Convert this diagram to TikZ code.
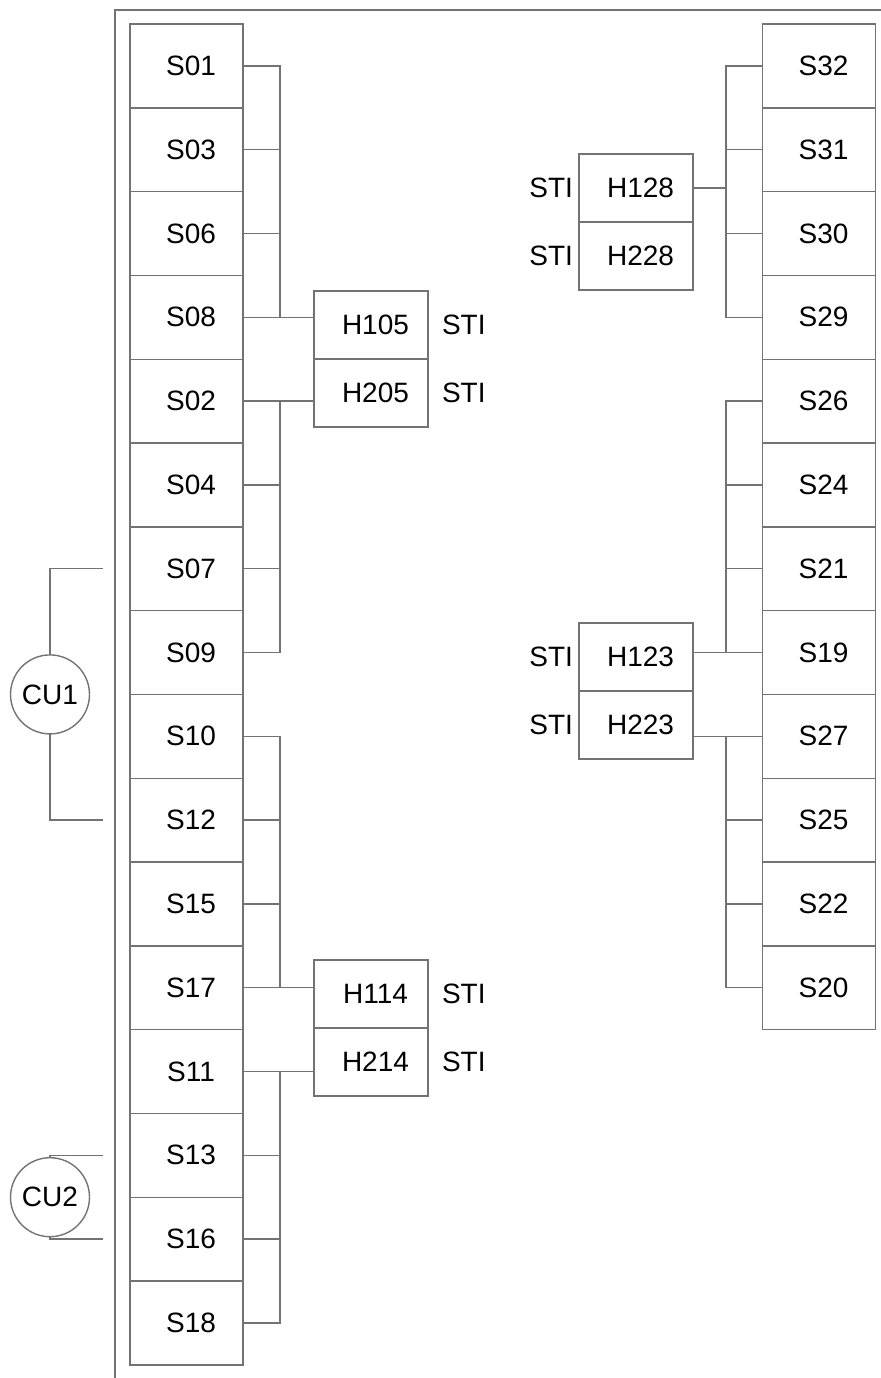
\documentclass[tikz,border=0pt]{standalone}
\usepackage{fontspec}
\setmainfont{Liberation Sans}
\usetikzlibrary{positioning}

\tikzset{
  slot/.style={draw,minimum width=56.5pt,minimum height=41.9pt,inner sep=0pt,outer sep=0pt,text=black,
    execute at begin node=\hspace*{4.5pt}},
  hcard/.style={draw,minimum width=57pt,minimum height=34pt,inner sep=0pt,outer sep=0pt,text=black,
    execute at begin node=\hspace*{4.5pt}},
  unit/.style={draw,circle,minimum size=39.5pt,inner sep=0pt,outer sep=0pt,text=black},
  tag/.style={inner sep=0pt,outer sep=0pt,text=black},
}

\begin{document}
\begin{tikzpicture}[x=0.5pt,y=-0.5pt,line width=0.7pt,black!55,font=\fontsize{14}{16}\selectfont]
    \useasboundingbox (0,0) rectangle (881,1378);
    % frame
    \draw (115,1378) -- (115,10) -- (881,10);
    \coordinate (lbus) at (280,0);
    \coordinate (rbus) at (726,0);
    \coordinate (cuend) at (103,0);

    % left column
    \node[slot] (s01) at (186.5,65.9) {S01};
    \node[slot,below=0pt of s01] (s03) {S03};
    \node[slot,below=0pt of s03] (s06) {S06};
    \node[slot,below=0pt of s06] (s08) {S08};
    \node[slot,below=0pt of s08] (s02) {S02};
    \node[slot,below=0pt of s02] (s04) {S04};
    \node[slot,below=0pt of s04] (s07) {S07};
    \node[slot,below=0pt of s07] (s09) {S09};
    \node[slot,below=0pt of s09] (s10) {S10};
    \node[slot,below=0pt of s10] (s12) {S12};
    \node[slot,below=0pt of s12] (s15) {S15};
    \node[slot,below=0pt of s15] (s17) {S17};
    \node[slot,below=0pt of s17] (s11) {S11};
    \node[slot,below=0pt of s11] (s13) {S13};
    \node[slot,below=0pt of s13] (s16) {S16};
    \node[slot,below=0pt of s16] (s18) {S18};

    % right column
    \node[slot] (s32) at (819,65.9) {S32};
    \node[slot,below=0pt of s32] (s31) {S31};
    \node[slot,below=0pt of s31] (s30) {S30};
    \node[slot,below=0pt of s30] (s29) {S29};
    \node[slot,below=0pt of s29] (s26) {S26};
    \node[slot,below=0pt of s26] (s24) {S24};
    \node[slot,below=0pt of s24] (s21) {S21};
    \node[slot,below=0pt of s21] (s19) {S19};
    \node[slot,below=0pt of s19] (s27) {S27};
    \node[slot,below=0pt of s27] (s25) {S25};
    \node[slot,below=0pt of s25] (s22) {S22};
    \node[slot,below=0pt of s22] (s20) {S20};

    % hubs
    \node[hcard,anchor=north west] (h105) at (314,291) {H105};
    \node[hcard,below=0pt of h105] (h205) {H205};
    \node[hcard,anchor=north west] (h114) at (314,960) {H114};
    \node[hcard,below=0pt of h114] (h214) {H214};
    \node[hcard,anchor=north west] (h128) at (579,154) {H128};
    \node[hcard,below=0pt of h128] (h228) {H228};
    \node[hcard,anchor=north west] (h123) at (579,623) {H123};
    \node[hcard,below=0pt of h123] (h223) {H223};

    \node[tag,right=7pt of h105] (t105) {STI};
    \node[tag,right=7pt of h205] (t205) {STI};
    \node[tag,right=7pt of h114] (t114) {STI};
    \node[tag,right=7pt of h214] (t214) {STI};
    \node[tag,left=3pt of h128] (t128) {STI};
    \node[tag,left=3pt of h228] (t228) {STI};
    \node[tag,left=3pt of h123] (t123) {STI};
    \node[tag,left=3pt of h223] (t223) {STI};

    % control units
    \node[unit] (cu1) at (50,694.4) {CU1};
    \node[unit] (cu2) at (50,1197.2) {CU2};

    % left buses
    \draw (s01.east) -| (s08.east -| lbus);
    \draw (s03.east) -- (s03.east -| lbus);
    \draw (s06.east) -- (s06.east -| lbus);
    \draw (s08.east) -- (s08.east -| h105.west);

    \draw (s09.east) -| (s02.east -| lbus);
    \draw (s04.east) -- (s04.east -| lbus);
    \draw (s07.east) -- (s07.east -| lbus);
    \draw (s02.east) -- (s02.east -| h205.west);

    \draw (s10.east) -| (s17.east -| lbus);
    \draw (s12.east) -- (s12.east -| lbus);
    \draw (s15.east) -- (s15.east -| lbus);
    \draw (s17.east) -- (s17.east -| h114.west);

    \draw (s18.east) -| (s11.east -| lbus);
    \draw (s13.east) -- (s13.east -| lbus);
    \draw (s16.east) -- (s16.east -| lbus);
    \draw (s11.east) -- (s11.east -| h214.west);

    % right buses
    \draw (s32.west) -| (s29.west -| rbus) -- (s29.west);
    \draw (s31.west) -- (s31.west -| rbus);
    \draw (s30.west) -- (s30.west -| rbus);
    \draw (h128.east) -- (h128.east -| rbus);

    \draw (s26.west) -| (s19.west -| rbus);
    \draw (s24.west) -- (s24.west -| rbus);
    \draw (s21.west) -- (s21.west -| rbus);
    \draw (s19.west -| h123.east) -- (s19.west);

    \draw (s27.west -| h223.east) -- (s27.west);
    \draw (s27.west -| rbus) |- (s20.west);
    \draw (s25.west) -- (s25.west -| rbus);
    \draw (s22.west) -- (s22.west -| rbus);

    % control unit links
    \draw (cu1.north) |- (s07.west -| cuend);
    \draw (cu1.south) |- (s12.west -| cuend);
    \draw (cu2.north) |- (s13.west -| cuend);
    \draw (cu2.south) |- (s16.west -| cuend);
\end{tikzpicture}
\end{document}
